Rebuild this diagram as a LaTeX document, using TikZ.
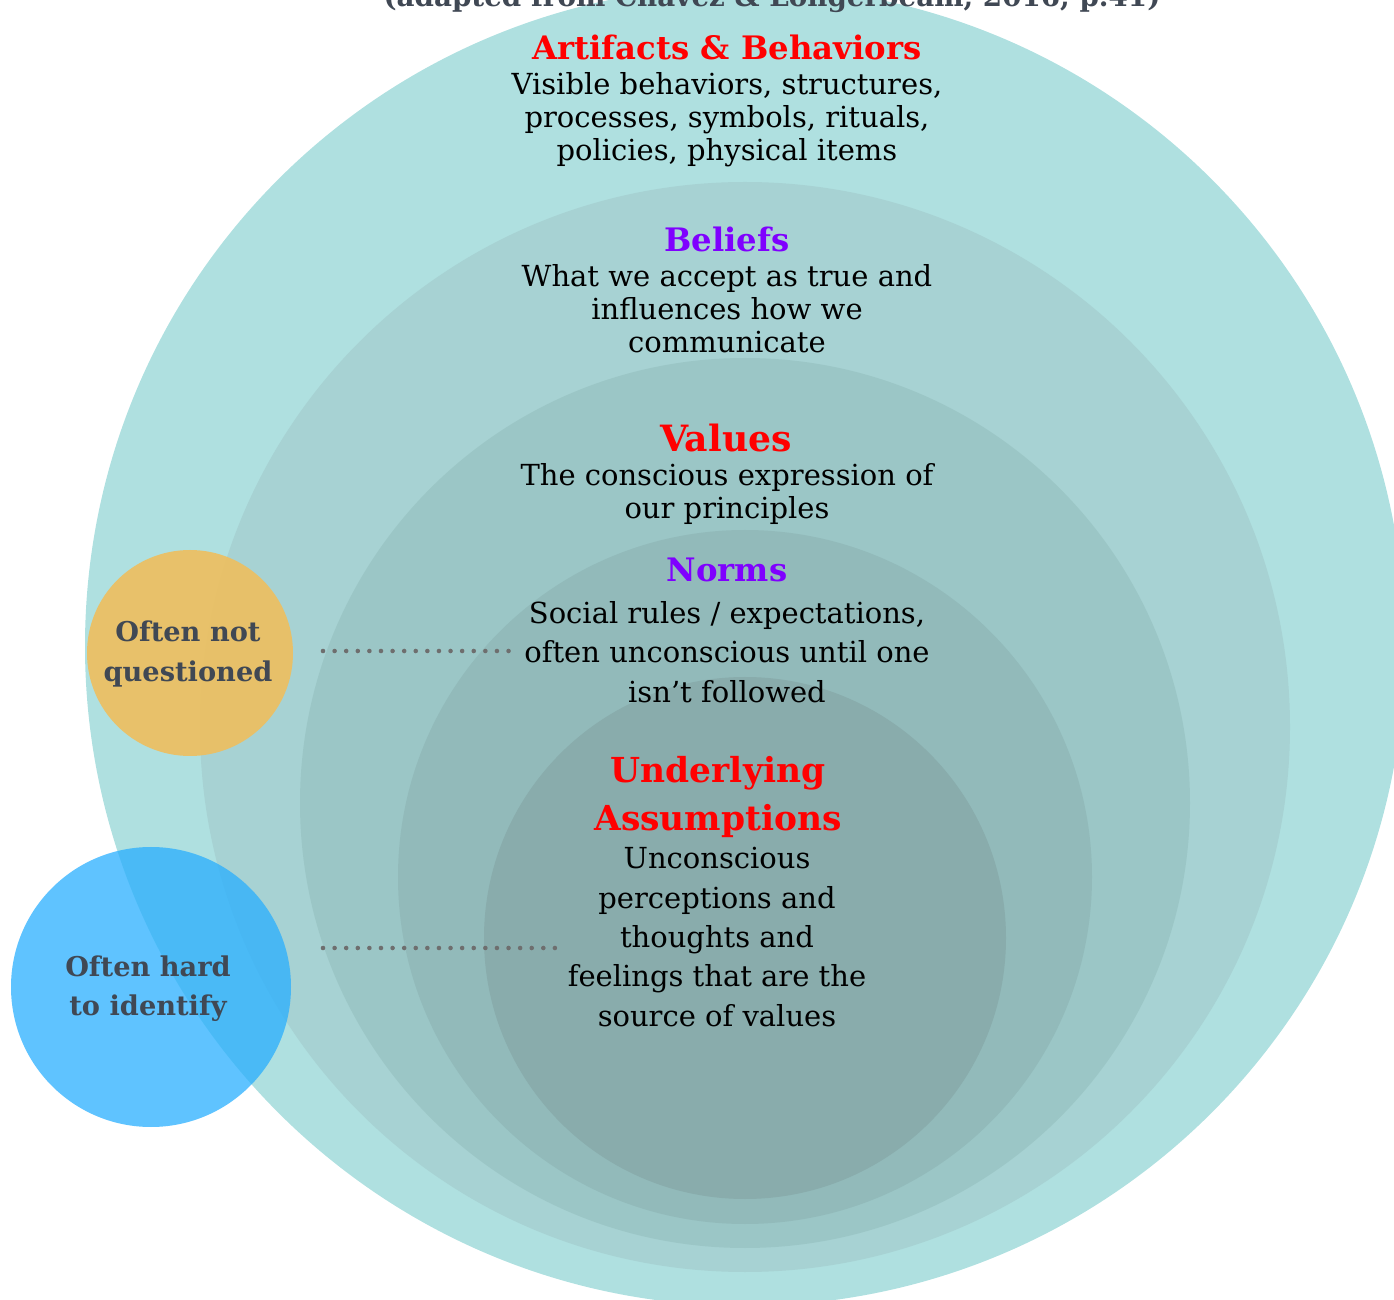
\documentclass[tikz,border=0pt]{standalone}
\usepackage{fontspec}
\setmainfont{DejaVu Serif}
\definecolor{tealA}{RGB}{175,224,224}
\definecolor{tealB}{RGB}{167,210,211}
\definecolor{tealC}{RGB}{155,198,198}
\definecolor{tealD}{RGB}{146,186,186}
\definecolor{tealE}{RGB}{137,172,172}
\definecolor{headred}{RGB}{255,0,0}
\definecolor{headpurple}{RGB}{127,0,255}
\definecolor{labelgray}{RGB}{64,72,84}
\definecolor{dotgray}{RGB}{110,110,110}
\definecolor{orangeC}{RGB}{237,191,96}
\definecolor{blueC}{RGB}{39,174,255}
\tikzset{
  layer/.style={circle, inner sep=0pt, minimum size={#1*0.02cm}},
  head/.style={inner sep=0pt, align=center, font=\bfseries\fontsize{18.4}{22}\selectfont},
  body/.style={inner sep=0pt, align=center, text=black, font=\fontsize{16.5}{18.7}\selectfont},
  bodywide/.style={inner sep=0pt, align=center, text=black, font=\fontsize{16.5}{22.4}\selectfont},
  sidelabel/.style={inner sep=0pt, align=center, text=labelgray, font=\bfseries\fontsize{15.5}{22.4}\selectfont},
  dotline/.style={dotgray, line width=2.6pt, line cap=round, dash pattern=on 0pt off 6.6pt}
}
\begin{document}
\begin{tikzpicture}[x=0.02cm,y=-0.02cm]
\useasboundingbox (0,0) rectangle (1394,1300);
\clip (0,0) rectangle (1394,1300);
% nested circles
\node[layer=1320, fill=tealA] (c1) at (745,646) {};
\node[layer=1090, fill=tealB] (c2) at (745,727) {};
\node[layer=890, fill=tealC] (c3) at (745,803) {};
\node[layer=694, fill=tealD] (c4) at (745,877) {};
\node[layer=522, fill=tealE] (c5) at (745,938) {};
% partially visible title
\node[anchor=base, inner sep=0pt, text=labelgray, font=\bfseries\fontsize{15.8}{19}\selectfont] (title) at (772,7) {(adapted from Chávez \& Longerbeam, 2016, p.41)};
% side circles
\node[layer=206, fill=orangeC, fill opacity=0.92] (oq) at (190,653) {};
\node[sidelabel] (oqt) at (188,654) {Often not\\questioned};
\node[layer=280, fill=blueC, fill opacity=0.74] (hi) at (151,987) {};
\node[sidelabel] (hit) at (148,989) {Often hard\\to identify};
% connectors
\coordinate (d1a) at (323,651);
\coordinate (d1b) at (512,651);
\coordinate (d2a) at (323,948);
\coordinate (d2b) at (560,948);
\draw[dotline] (d1a) -- (d1b);
\draw[dotline] (d2a) -- (d2b);
% texts
\node[head, text=headred] (h1) at (727,47) {Artifacts \& Behaviors};
\node[body] (b1) at (727,120) {Visible behaviors, structures,\\processes, symbols, rituals,\\policies, physical items};
\node[head, text=headpurple] (h2) at (727,239) {Beliefs};
\node[body] (b2) at (727,309) {What we accept as true and\\influences how we\\communicate};
\node[head, text=headred, font=\bfseries\fontsize{20.6}{24}\selectfont] (h3) at (726,438) {Values};
\node[body] (b3) at (727,494) {The conscious expression of\\our principles};
\node[head, text=headpurple] (h4) at (727,570) {Norms};
\node[bodywide] (b4) at (727,652) {Social rules / expectations,\\often unconscious until one\\isn{\char"0027}t followed};
\node[head, text=headred, font=\bfseries\fontsize{19.6}{27}\selectfont] (h5) at (718,797) {Underlying\\Assumptions};
\node[bodywide] (b5) at (717,937) {Unconscious\\perceptions and\\thoughts and\\feelings that are the\\source of values};
\end{tikzpicture}
\end{document}
